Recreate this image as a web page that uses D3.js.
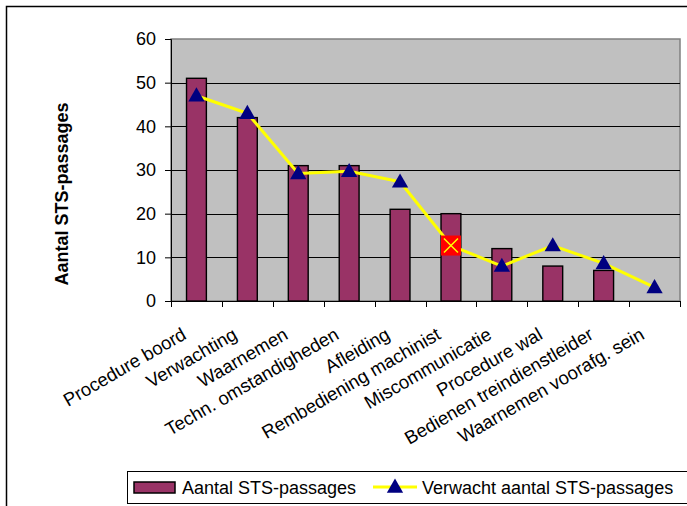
<!DOCTYPE html>
<html>
<head>
<meta charset="utf-8">
<script src="https://cdn.jsdelivr.net/npm/d3@7"></script>
<style>
  html, body { margin: 0; padding: 0; background: #fff; }
  svg { display: block; }
  text { font-family: "Liberation Sans", Arial, sans-serif; }
</style>
</head>
<body>
<div id="chart"></div>
<script>
const categories = ["Procedure boord", "Verwachting", "Waarnemen", "Techn. omstandigheden", "Afleiding",
  "Rembediening machinist", "Miscommunicatie", "Procedure wal", "Bedienen treindienstleider", "Waarnemen voorafg. sein"];
const actual = [51, 42, 31, 31, 21, 20, 12, 8, 7, 0];
const expected = [47, 43, 29.2, 29.7, 27.3, 12.7, 8, 12.7, 8.6, 3.1];
const yTicks = [0, 10, 20, 30, 40, 50, 60];
const highlightIndex = 5;
const seriesNames = ["Aantal STS-passages", "Verwacht aantal STS-passages"];
const yTitle = "Aantal STS-passages";

const W = 687, H = 506;
const plot = { left: 171, right: 680, top: 39, bottom: 301 };

const svg = d3.select("#chart").append("svg").attr("width", W).attr("height", H);

// outer border (cut at right/bottom)
svg.append("path").attr("d", `M6.5,${H + 5} V6.5 H${W + 5}`).attr("fill", "none").attr("stroke", "#000").attr("stroke-width", 1.5);

const x = d3.scaleBand().domain(categories).range([plot.left, plot.right]).padding(0);
const y = d3.scaleLinear().domain([0, 60]).range([plot.bottom, plot.top]);

// plot background
svg.append("rect").attr("x", plot.left).attr("y", plot.top)
  .attr("width", plot.right - plot.left).attr("height", plot.bottom - plot.top)
  .attr("fill", "#C0C0C0").attr("stroke", "#808080").attr("stroke-width", 1.5);

// gridlines
svg.append("g").selectAll("line").data(yTicks.filter(t => t > 0 && t < 60)).join("line")
  .attr("x1", plot.left).attr("x2", plot.right)
  .attr("y1", d => Math.round(y(d)) + 0.5).attr("y2", d => Math.round(y(d)) + 0.5)
  .attr("stroke", "#000").attr("stroke-width", 1);

// bars
const barW = x.bandwidth() * 0.39;
svg.append("g").selectAll("rect").data(actual).join("rect")
  .attr("x", (d, i) => x(categories[i]) + x.bandwidth() / 2 - barW / 2)
  .attr("y", d => y(d))
  .attr("width", barW)
  .attr("height", d => y(0) - y(d))
  .attr("fill", "#993366").attr("stroke", "#000").attr("stroke-width", 1.4);

// y axis
const yAxis = d3.axisLeft(y).tickValues(yTicks).tickSize(6).tickPadding(9).tickFormat(d3.format("d"));
const gy = svg.append("g").attr("transform", `translate(${plot.left},0)`).call(yAxis);
gy.select(".domain").attr("stroke", "#000");
gy.selectAll(".tick line").attr("stroke", "#000");
gy.selectAll(".tick text").attr("font-size", 18).attr("fill", "#000")
  .style("font-family", '"Liberation Sans", Arial, sans-serif');

// x axis: ticks at category boundaries
const boundaries = categories.map(c => x(c)).concat([plot.right]);
const gx = svg.append("g");
gx.append("line").attr("x1", plot.left).attr("x2", plot.right)
  .attr("y1", plot.bottom + 0.5).attr("y2", plot.bottom + 0.5).attr("stroke", "#000");
gx.selectAll("line.tk").data(boundaries).join("line").attr("class", "tk")
  .attr("x1", d => Math.round(d) + 0.5).attr("x2", d => Math.round(d) + 0.5)
  .attr("y1", plot.bottom).attr("y2", plot.bottom + 6).attr("stroke", "#000");

gx.selectAll("text").data(categories).join("text")
  .attr("transform", d => `translate(${x(d) + x.bandwidth() / 2 - 9},${plot.bottom + 37}) rotate(-30)`)
  .attr("text-anchor", "end")
  .attr("font-size", 18.5).attr("fill", "#000")
  .text(d => d);

// expected line
const line = d3.line().x((d, i) => x(categories[i]) + x.bandwidth() / 2).y(d => y(d));
svg.append("path").datum(expected).attr("d", line)
  .attr("fill", "none").attr("stroke", "#FFFF00").attr("stroke-width", 3).attr("stroke-linejoin", "round");

// markers
const tri = d3.symbol().type(d3.symbolTriangle).size(115);
const mk = svg.append("g");
expected.forEach((v, i) => {
  const cx = x(categories[i]) + x.bandwidth() / 2, cy = y(v);
  if (i === highlightIndex) {
    mk.append("rect").attr("x", cx - 10).attr("y", cy - 10).attr("width", 20).attr("height", 20).attr("fill", "#FF0000");
    mk.append("path").attr("d", `M${cx - 7},${cy - 7}L${cx + 7},${cy + 7}M${cx + 7},${cy - 7}L${cx - 7},${cy + 7}`)
      .attr("stroke", "#FFFF00").attr("stroke-width", 1.5);
  } else {
    mk.append("path").attr("d", tri).attr("transform", `translate(${cx},${cy + 1})`).attr("fill", "#000080");
  }
});

// y title
svg.append("text").attr("transform", `translate(68,${(plot.top + plot.bottom) / 2 + 24}) rotate(-90)`)
  .attr("text-anchor", "middle").attr("font-size", 18).attr("font-weight", "bold").attr("fill", "#000")
  .text(yTitle);

// legend
const lg = svg.append("g");
lg.append("rect").attr("x", 127.5).attr("y", 471.5).attr("width", W).attr("height", 32)
  .attr("fill", "#fff").attr("stroke", "#000").attr("stroke-width", 1);
lg.append("rect").attr("x", 134).attr("y", 482).attr("width", 41).attr("height", 11)
  .attr("fill", "#993366").attr("stroke", "#000").attr("stroke-width", 1.5);
lg.append("text").attr("x", 182).attr("y", 494).attr("font-size", 18).attr("fill", "#000").text(seriesNames[0]);
lg.append("line").attr("x1", 373).attr("x2", 417).attr("y1", 487).attr("y2", 487)
  .attr("stroke", "#FFFF00").attr("stroke-width", 3);
lg.append("path").attr("d", tri).attr("transform", "translate(395,488)").attr("fill", "#000080");
lg.append("text").attr("x", 422).attr("y", 494).attr("font-size", 18).attr("fill", "#000").text(seriesNames[1]);
</script>
</body>
</html>
